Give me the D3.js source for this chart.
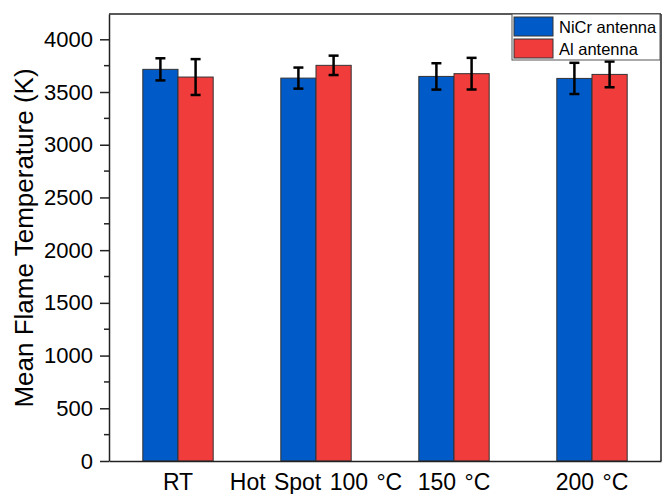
<!DOCTYPE html>
<html>
<head>
<meta charset="utf-8">
<script src="https://cdn.jsdelivr.net/npm/d3@7"></script>
<style>
  body { margin: 0; background: #fff; }
  text { font-family: "Liberation Sans", Arial, sans-serif; }
</style>
</head>
<body>
<svg id="chart" width="663" height="494"></svg>
<script>
// data
var categories = ["RT", "Hot Spot 100 °C", "150 °C", "200 °C"];
var seriesNames = ["NiCr antenna", "Al antenna"];
var nicrMean = [3715, 3632, 3648, 3629];
var nicrErr  = [105, 100, 125, 148];
var alMean   = [3642, 3753, 3674, 3667];
var alErr    = [170, 92, 150, 122];
var yTicks   = [0, 500, 1000, 1500, 2000, 2500, 3000, 3500, 4000];
var colors   = ["#005bc9", "#f13c3c"];

var svg = d3.select("#chart");
var margin = {top: 14, right: 2, bottom: 33, left: 109};
var width = 663 - margin.left - margin.right,
    height = 494 - margin.top - margin.bottom;

var g = svg.append("g")
    .attr("transform", "translate(" + margin.left + "," + margin.top + ")");

var x = d3.scaleBand()
    .domain(categories)
    .range([0, width])
    .paddingInner(0.49)
    .paddingOuter(0.245);

var xSub = d3.scaleBand()
    .domain(seriesNames)
    .range([0, x.bandwidth()]);

var y = d3.scaleLinear()
    .domain([0, 4240])
    .range([height, 0]);

var rows = categories.map(function(c, i) {
  return {cat: c, vals: [
    {s: seriesNames[0], v: nicrMean[i], e: nicrErr[i], c: colors[0]},
    {s: seriesNames[1], v: alMean[i], e: alErr[i], c: colors[1]}
  ]};
});

var groups = g.selectAll(".grp")
  .data(rows)
  .enter().append("g")
    .attr("class", "grp")
    .attr("transform", function(d) { return "translate(" + x(d.cat) + ",0)"; });

groups.selectAll("rect")
  .data(function(d) { return d.vals; })
  .enter().append("rect")
    .attr("x", function(d) { return xSub(d.s); })
    .attr("y", function(d) { return y(d.v); })
    .attr("width", xSub.bandwidth())
    .attr("height", function(d) { return height - y(d.v); })
    .attr("fill", function(d) { return d.c; })
    .attr("stroke", "#333")
    .attr("stroke-width", 1);

// error bars
var eb = groups.selectAll(".err")
  .data(function(d) { return d.vals; })
  .enter().append("g")
    .attr("class", "err")
    .attr("stroke", "#000")
    .attr("stroke-width", 2.5);
eb.append("line")
    .attr("x1", function(d) { return xSub(d.s) + xSub.bandwidth() / 2; })
    .attr("x2", function(d) { return xSub(d.s) + xSub.bandwidth() / 2; })
    .attr("y1", function(d) { return y(d.v + d.e); })
    .attr("y2", function(d) { return y(d.v - d.e); });
[1, -1].forEach(function(sg) {
  eb.append("line")
    .attr("x1", function(d) { return xSub(d.s) + xSub.bandwidth() / 2 - 5; })
    .attr("x2", function(d) { return xSub(d.s) + xSub.bandwidth() / 2 + 5; })
    .attr("y1", function(d) { return y(d.v + sg * d.e); })
    .attr("y2", function(d) { return y(d.v + sg * d.e); });
});

// frame
g.append("line").attr("x1", 0).attr("x2", width).attr("y1", 0).attr("y2", 0)
  .attr("stroke", "#222").attr("stroke-width", 1.5);
g.append("line").attr("x1", width).attr("x2", width).attr("y1", 0).attr("y2", height)
  .attr("stroke", "#222").attr("stroke-width", 1.5);

// y axis
var yAxis = g.append("g")
    .call(d3.axisLeft(y).tickValues(yTicks).tickFormat(d3.format("d"))
      .tickSize(9).tickPadding(7).tickSizeOuter(0));
yAxis.select(".domain").attr("stroke", "#222").attr("stroke-width", 1.5);
yAxis.selectAll(".tick line").attr("stroke", "#222").attr("stroke-width", 1.5);
yAxis.selectAll("text").attr("font-size", 22).attr("fill", "#000")
    .attr("font-family", "Liberation Sans, Arial, sans-serif");
// minor ticks
g.append("g").selectAll("line")
  .data(yTicks.slice(0, -1).map(function(t) { return t + 250; }))
  .enter().append("line")
    .attr("x1", -5).attr("x2", 0)
    .attr("y1", function(d) { return y(d); })
    .attr("y2", function(d) { return y(d); })
    .attr("stroke", "#222").attr("stroke-width", 1.5);

// x axis
var xAxis = g.append("g")
    .attr("transform", "translate(0," + height + ")")
    .call(d3.axisBottom(x).tickSize(0).tickPadding(13).tickSizeOuter(0));
xAxis.select(".domain").attr("stroke", "#222").attr("stroke-width", 1.5);
xAxis.selectAll("text").attr("font-size", 23).attr("fill", "#000")
    .style("word-spacing", "2px")
    .attr("dy", "0.71em")
    .attr("font-family", "Liberation Sans, Arial, sans-serif");

// y label
svg.append("text")
    .attr("transform", "translate(33,238) rotate(-90)")
    .attr("text-anchor", "middle")
    .attr("font-size", 26)
    .text("Mean Flame Temperature (K)");

// legend
var leg = svg.append("g").attr("transform", "translate(512,14)");
leg.append("rect")
    .attr("width", 148).attr("height", 46)
    .attr("fill", "#fff").attr("stroke", "#555").attr("stroke-width", 1);
seriesNames.forEach(function(s, i) {
  leg.append("rect")
    .attr("x", 2).attr("y", 3 + i * 22)
    .attr("width", 39).attr("height", 19)
    .attr("fill", colors[i]).attr("stroke", "#333");
  leg.append("text")
    .attr("x", 47).attr("y", 19 + i * 22)
    .attr("font-size", 16.5)
    .text(s);
});
</script>
</body>
</html>
